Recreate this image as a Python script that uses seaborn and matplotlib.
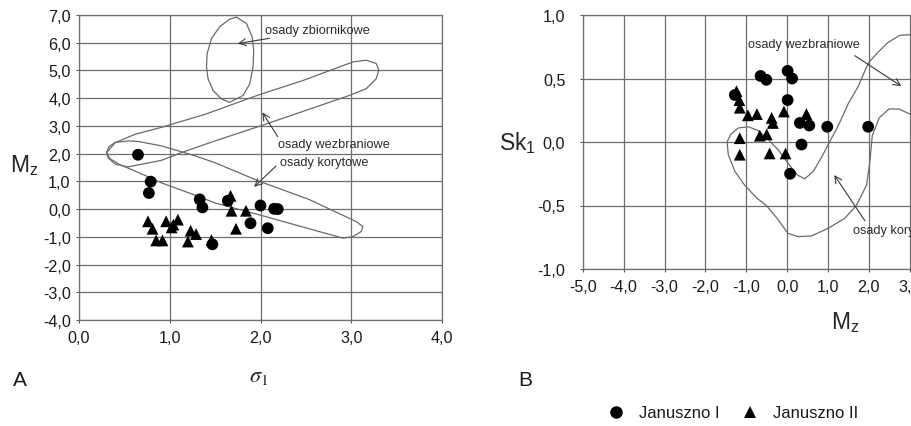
import numpy as np
import pandas as pd
import matplotlib
matplotlib.use("Agg")
import matplotlib.pyplot as plt
from matplotlib.ticker import FuncFormatter, MultipleLocator
import seaborn as sns

# ---------------- data ----------------
series_names = ["Januszno I", "Januszno II"]

# Panel A: sorting (sigma_1) vs mean grain size (M_z)
a_circle_sigma = [0.65, 0.79, 0.77, 1.33, 1.36, 1.64, 2.00, 2.15, 2.19, 1.89, 2.08, 1.47]
a_circle_mz = [1.96, 0.99, 0.58, 0.35, 0.06, 0.30, 0.13, 0.01, 0.00, -0.51, -0.69, -1.27]
a_tri_sigma = [1.67, 1.68, 1.84, 1.73, 0.76, 0.81, 0.85, 0.92, 0.96, 1.02, 1.04, 1.09,
               1.23, 1.29, 1.20, 1.46]
a_tri_mz = [0.48, -0.06, -0.06, -0.71, -0.44, -0.71, -1.13, -1.13, -0.44, -0.66, -0.56, -0.38,
            -0.78, -0.90, -1.17, -1.12]

# Panel B: mean grain size (M_z) vs skewness (Sk_1)
b_circle_mz = [-1.28, -0.65, -0.51, 0.01, 0.12, 0.01, 0.31, 0.54, 0.98, 1.98, 0.35, 0.07]
b_circle_sk = [0.37, 0.52, 0.49, 0.56, 0.50, 0.33, 0.15, 0.13, 0.12, 0.12, -0.02, -0.25]
b_tri_mz = [-1.24, -1.17, -1.16, -0.96, -0.74, -0.38, -0.35, -0.08, 0.47, -1.16, -0.67, -0.50,
            -1.16, -0.43, -0.04]
b_tri_sk = [0.40, 0.33, 0.27, 0.21, 0.22, 0.19, 0.15, 0.24, 0.22, 0.03, 0.05, 0.06,
            -0.10, -0.09, -0.09]

# Field outlines, panel A (sigma_1, M_z)
zbiornikowe_x = [1.735, 1.845, 1.907, 1.925, 1.918, 1.882, 1.808, 1.661, 1.570, 1.477,
                 1.422, 1.405, 1.412, 1.460, 1.551, 1.661, 1.735]
zbiornikowe_y = [6.92, 6.70, 6.22, 5.73, 5.13, 4.52, 4.10, 3.85, 3.97, 4.28,
                 4.70, 5.13, 5.61, 6.15, 6.58, 6.85, 6.92]

wezbraniowe_a_x = [0.304, 0.40, 0.62, 0.91, 1.40, 1.99, 2.47, 3.02, 3.165, 3.275, 3.304,
                   3.275, 3.165, 2.98, 2.50, 2.00, 1.50, 1.13, 0.91, 0.54, 0.40, 0.32, 0.304]
wezbraniowe_a_y = [2.04, 2.40, 2.70, 2.95, 3.43, 4.13, 4.64, 5.31, 5.37, 5.25, 5.01,
                   4.70, 4.34, 4.10, 3.56, 3.00, 2.46, 2.04, 1.76, 1.52, 1.62, 1.85, 2.04]

korytowe_a_x = [0.396, 0.54, 0.65, 0.91, 1.28, 1.50, 1.99, 2.54, 3.055, 3.128, 3.11,
                3.02, 2.91, 2.45, 2.00, 1.50, 1.28, 0.91, 0.60, 0.45, 0.34, 0.304, 0.33, 0.396]
korytowe_a_y = [2.40, 2.46, 2.44, 2.28, 1.92, 1.67, 1.00, 0.34, -0.45, -0.63, -0.81,
                -0.99, -1.05, -0.63, -0.22, 0.22, 0.50, 0.945, 1.40, 1.60, 1.82, 2.04, 2.25, 2.40]

# Field boundary, panel B (M_z, Sk_1)
boundary_b_x = [3.40, 3.02, 2.75, 2.45, 2.20, 1.98, 1.74, 1.49, 1.25, 1.02, 0.84, 0.64,
                0.43, 0.25, 0.05, -0.20, -0.46, -0.71, -0.95, -1.20, -1.38, -1.47, -1.44,
                -1.28, -1.04, -0.75, -0.51, -0.25, 0.02, 0.27, 0.59, 1.00, 1.41, 1.69,
                1.94, 2.02, 2.08, 2.25, 2.49, 2.73, 3.00, 3.40]
boundary_b_y = [0.81, 0.845, 0.84, 0.78, 0.70, 0.62, 0.44, 0.30, 0.13, -0.01, -0.12, -0.23,
                -0.29, -0.26, -0.18, -0.07, 0.02, 0.09, 0.12, 0.11, 0.06, 0.00, -0.10,
                -0.23, -0.34, -0.44, -0.50, -0.60, -0.72, -0.745, -0.74, -0.68, -0.60, -0.50,
                -0.34, -0.16, 0.05, 0.19, 0.26, 0.26, 0.22, 0.10]

# ---------------- style ----------------
sns.set_style("white")
plt.rcParams["font.family"] = ["Liberation Sans", "DejaVu Sans"]
plt.rcParams["text.color"] = "#1a1a1a"
plt.rcParams["xtick.color"] = "#555555"
plt.rcParams["ytick.color"] = "#555555"
plt.rcParams["xtick.labelcolor"] = "#1a1a1a"
plt.rcParams["ytick.labelcolor"] = "#1a1a1a"

GRID = "#6f6f6f"
OUTLINE = "#6a6a6a"
TEXT = "#2a2a2a"


def comma_fmt(v, pos):
    s = f"{v:.1f}"
    if s == "-0.0":
        s = "0.0"
    return s.replace(".", ",")


def frame_axes(ax, xstep, ystep, ypad):
    ax.xaxis.set_major_locator(MultipleLocator(xstep))
    ax.yaxis.set_major_locator(MultipleLocator(ystep))
    ax.xaxis.set_major_formatter(FuncFormatter(comma_fmt))
    ax.yaxis.set_major_formatter(FuncFormatter(comma_fmt))
    ax.grid(True, color=GRID, linewidth=0.9)
    ax.set_axisbelow(True)
    for sp in ax.spines.values():
        sp.set_color(GRID)
        sp.set_linewidth(0.9)
    ax.tick_params(axis="both", which="major", labelsize=11.6, direction="out",
                   length=2.5, width=0.8, left=True, bottom=True)
    ax.tick_params(axis="x", pad=5)
    ax.tick_params(axis="y", pad=ypad)


def points_frame(xc, yc, xt, yt, xname, yname):
    return pd.DataFrame({
        xname: list(xc) + list(xt),
        yname: list(yc) + list(yt),
        "site": [series_names[0]] * len(xc) + [series_names[1]] * len(xt),
    })


df_a = points_frame(a_circle_sigma, a_circle_mz, a_tri_sigma, a_tri_mz, "sigma", "mz")
df_b = points_frame(b_circle_mz, b_circle_sk, b_tri_mz, b_tri_sk, "mz", "sk")

markers = {series_names[0]: "o", series_names[1]: "^"}

fig = plt.figure(figsize=(9.11, 4.27), dpi=100)
ax_a = fig.add_axes([79 / 911, 1 - 321 / 427, 363 / 911, 305 / 427])
ax_b = fig.add_axes([582.7 / 911, 1 - 270 / 427, 409 / 911, 254 / 427])

# ---------------- panel A ----------------
ax_a.plot(zbiornikowe_x, zbiornikowe_y, color=OUTLINE, lw=0.9, zorder=2)
ax_a.plot(wezbraniowe_a_x, wezbraniowe_a_y, color=OUTLINE, lw=0.9, zorder=2)
ax_a.plot(korytowe_a_x, korytowe_a_y, color=OUTLINE, lw=0.9, zorder=2)
sns.scatterplot(data=df_a, x="sigma", y="mz", style="site", markers=markers,
                color="black", s=72, linewidth=0, ax=ax_a, legend="full", zorder=3)
ax_a.get_legend().remove()

ax_a.set_xlim(0, 4)
ax_a.set_ylim(-4, 7)
frame_axes(ax_a, 1.0, 1.0, 3.5)
ax_a.set_xlabel(r"$\sigma_{\mathrm{1}}$", fontsize=16, math_fontfamily="stix")
ax_a.xaxis.set_label_coords(0.496, -0.148)
ax_a.set_ylabel(r"M$_\mathregular{z}$", fontsize=16.5, rotation=0, ha="center", va="center")
ax_a.yaxis.set_label_coords(-0.152, 0.51)

arrow_kw = dict(arrowstyle="->,head_length=0.5,head_width=0.25", color="#3a3a3a",
                lw=0.8, shrinkA=0, shrinkB=0)
ax_a.text(2.05, 6.46, "osady zbiornikowe", fontsize=9.2, color=TEXT, va="center")
ax_a.annotate("", xy=(1.75, 5.97), xytext=(2.10, 6.16), arrowprops=arrow_kw)
ax_a.text(2.19, 2.34, "osady wezbraniowe", fontsize=9.2, color=TEXT, va="center")
ax_a.annotate("", xy=(2.02, 3.49), xytext=(2.19, 2.61), arrowprops=arrow_kw)
ax_a.text(2.21, 1.70, "osady korytowe", fontsize=9.2, color=TEXT, va="center")
ax_a.annotate("", xy=(1.93, 0.80), xytext=(2.17, 1.55), arrowprops=arrow_kw)

# ---------------- panel B ----------------
ax_b.plot(boundary_b_x, boundary_b_y, color=OUTLINE, lw=0.9, zorder=2)
sns.scatterplot(data=df_b, x="mz", y="sk", style="site", markers=markers,
                color="black", s=72, linewidth=0, ax=ax_b, legend="full", zorder=3)
leg_b = ax_b.get_legend()
handles = list(leg_b.legend_handles)
labels = [t.get_text() for t in leg_b.get_texts()]
leg_b.remove()

ax_b.set_xlim(-5, 5)
ax_b.set_ylim(-1, 1)
frame_axes(ax_b, 1.0, 0.5, 10)
ax_b.set_xlabel(r"M$_\mathregular{z}$", fontsize=16.5)
ax_b.xaxis.set_label_coords(0.641, -0.157)
ax_b.set_ylabel(r"Sk$_\mathregular{1}$", fontsize=16.5, rotation=0, ha="center", va="center")
ax_b.yaxis.set_label_coords(-0.16, 0.5)

ax_b.text(-0.95, 0.77, "osady wezbraniowe", fontsize=9.2, color=TEXT, va="center")
ax_b.annotate("", xy=(2.79, 0.44), xytext=(1.65, 0.68), arrowprops=arrow_kw)
ax_b.text(1.61, -0.69, "osady korytowe", fontsize=9.2, color=TEXT, va="center")
ax_b.annotate("", xy=(1.15, -0.26), xytext=(1.90, -0.62), arrowprops=arrow_kw)

# ---------------- panel letters and legend ----------------
fig.text(20 / 911, 1 - 381 / 427, "A", fontsize=15, ha="center", va="center")
fig.text(525 / 911, 1 - 381 / 427, "B", fontsize=15, ha="center", va="center")

for h in handles:
    h.set_color("black")
    h.set_markersize(9)
fig.legend(handles, labels, loc="center", bbox_to_anchor=(733 / 911, 1 - 414 / 427),
           ncol=2, frameon=False, fontsize=12, handlelength=1.0, handletextpad=0.9,
           columnspacing=1.3)

fig.savefig("out.png", dpi=100)
